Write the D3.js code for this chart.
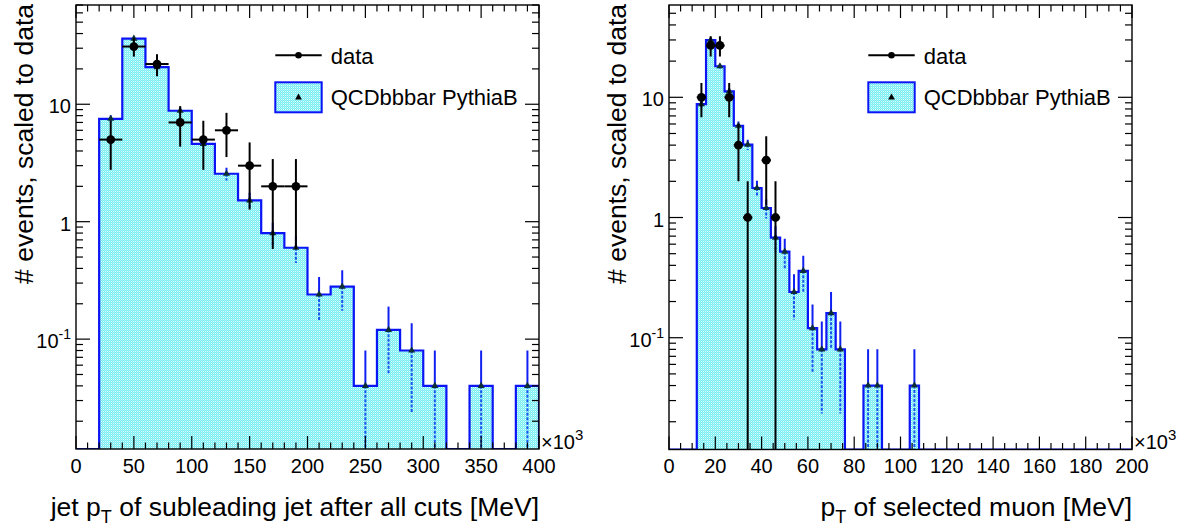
<!DOCTYPE html>
<html>
<head>
<meta charset="utf-8">
<script src="https://cdn.jsdelivr.net/npm/d3@7"></script>
<style>
  body { margin: 0; background: #fff; }
  svg text { font-family: "Liberation Sans", Arial, Helvetica, sans-serif; fill: #000; }
</style>
</head>
<body>
<svg id="chart" width="1184" height="530"></svg>
<script>
// ---- subleading jet pT (x in units of 10^3 MeV) ----
const jetEdges = [20, 40, 60, 80, 100, 120, 140, 160, 180, 200, 220, 240, 260, 280, 300, 320, 340, 360, 380, 400];
const jetMC    = [7.52, 36.2, 20.7, 8.8, 4.6, 2.56, 1.52, 0.8, 0.6, 0.24, 0.28, 0.04, 0.12, 0.08, 0.04, 0, 0.04, 0, 0.04];
const jetDataX = [30, 50, 70, 90, 110, 130, 150, 170, 190];
const jetData  = [5, 31, 22, 7, 5, 6, 3, 2, 2];
const jetTicks = [0, 50, 100, 150, 200, 250, 300, 350, 400];

// ---- selected muon pT (x in units of 10^3 MeV) ----
const muEdges = [12, 16, 20, 24, 28, 32, 36, 40, 44, 48, 52, 56, 60, 64, 68, 72, 76, 80, 84, 88, 92, 96, 100, 104, 108];
const muMC    = [8.76, 29.92, 18.12, 11.2, 5.8, 4.04, 1.76, 1.2, 0.68, 0.52, 0.24, 0.36, 0.12, 0.08, 0.16, 0.08, 0, 0, 0.04, 0.04, 0, 0, 0, 0.04];
const muDataX = [14, 18, 22, 26, 30, 34, 42, 46];
const muData  = [10, 27, 27, 10, 4, 1, 3, 1];
const muTicks = [0, 20, 40, 60, 80, 100, 120, 140, 160, 180, 200];

// decade labels on the log axis
const yDecades = [0.1, 1, 10];
const yDecadeLabels = [["10", "-1"], ["1", ""], ["10", ""]];

// per-event weight of the simulated sample (sets its statistical errors)
const mcWeight = 0.04;

const legendNames = ["data", "QCDbbbar PythiaB"];

const svg = d3.select("#chart");
const defs = svg.append("defs");

// dotted cyan fill
const pat = defs.append("pattern")
  .attr("id", "cyanDots").attr("patternUnits", "userSpaceOnUse")
  .attr("width", 2).attr("height", 2);
pat.append("rect").attr("width", 2).attr("height", 2).attr("fill", "#74edf3");
pat.append("rect").attr("x", 1).attr("y", 1).attr("width", 1).attr("height", 1).attr("fill", "#e2fcfd");
pat.append("rect").attr("x", 0).attr("y", 0).attr("width", 1).attr("height", 1).attr("fill", "#a2f4f7");

function drawPanel(cfg) {
  const { id, left, right, top, bottom } = cfg;
  const x = d3.scaleLinear().domain(cfg.xDomain).range([left, right]);
  const y = d3.scaleLog().domain(cfg.yDomain).range([bottom, top]);
  const g = svg.append("g");

  defs.append("clipPath").attr("id", "clip-" + id)
    .append("rect").attr("x", left).attr("y", top).attr("width", right - left).attr("height", bottom - top);
  const plot = g.append("g").attr("clip-path", `url(#clip-${id})`);

  // histogram outline (steps, zero bins lie on the lower edge)
  const yv = v => v > 0 ? y(v) : bottom;
  const pts = [[x(cfg.xDomain[0]), bottom], [x(cfg.edges[0]), bottom]];
  cfg.mc.forEach((v, i) => {
    pts.push([x(cfg.edges[i]), yv(v)]);
    pts.push([x(cfg.edges[i + 1]), yv(v)]);
  });
  pts.push([x(cfg.edges[cfg.edges.length - 1]), bottom]);
  pts.push([x(cfg.xDomain[1]), bottom]);
  const line = d3.line();

  plot.append("path").attr("d", line(pts) + "Z").attr("fill", "url(#cyanDots)").attr("stroke", "none");
  plot.append("path").attr("d", line(pts)).attr("fill", "none")
    .attr("stroke", "#0a14f5").attr("stroke-width", 2.2).attr("stroke-linejoin", "miter");

  // simulated sample: statistical error bars and markers
  cfg.mc.forEach((v, i) => {
    if (v <= 0) return;
    const cx = x((cfg.edges[i] + cfg.edges[i + 1]) / 2);
    const err = Math.sqrt(v * mcWeight);
    const lo = v - err > 0 ? y(v - err) : bottom + 5;
    plot.append("line").attr("x1", cx).attr("x2", cx).attr("y1", y(v + err)).attr("y2", y(v))
      .attr("stroke", "#1020f0").attr("stroke-width", 2);
    plot.append("line").attr("x1", cx).attr("x2", cx).attr("y1", y(v)).attr("y2", lo)
      .attr("stroke", "#1a55f0").attr("stroke-width", 2).attr("stroke-dasharray", "3,1.5");
    plot.append("path").attr("d", d3.symbol(d3.symbolTriangle, 22)())
      .attr("transform", `translate(${cx},${y(v)})`).attr("fill", "#0c2f35");
  });

  // data: Poisson error bars and markers
  const half = (cfg.edges[1] - cfg.edges[0]) / 2;
  cfg.dataX.forEach((c, i) => {
    const n = cfg.data[i];
    const err = Math.sqrt(n);
    const cy = y(n);
    const lo = n - err > 0 ? y(n - err) : bottom + 5;
    plot.append("line").attr("x1", x(c)).attr("x2", x(c)).attr("y1", y(n + err)).attr("y2", lo)
      .attr("stroke", "#000").attr("stroke-width", 2);
    plot.append("line").attr("x1", x(c - half)).attr("x2", x(c + half)).attr("y1", cy).attr("y2", cy)
      .attr("stroke", "#000").attr("stroke-width", 2);
    plot.append("circle").attr("cx", x(c)).attr("cy", cy).attr("r", 4.4).attr("fill", "#000");
  });

  // frame
  g.append("rect").attr("x", left).attr("y", top).attr("width", right - left).attr("height", bottom - top)
    .attr("fill", "none").attr("stroke", "#000").attr("stroke-width", 1.4);

  // x ticks (bottom and top, pointing inwards)
  const ticks = g.append("g").attr("stroke", "#000").attr("stroke-width", 1.2);
  const minor = d3.range(cfg.xDomain[0], cfg.xDomain[1] + 1e-9, cfg.minorStep);
  minor.forEach(v => {
    const isMajor = cfg.ticks.includes(v);
    const len = isMajor ? 13 : 6.5;
    ticks.append("line").attr("x1", x(v)).attr("x2", x(v)).attr("y1", bottom).attr("y2", bottom - len);
    ticks.append("line").attr("x1", x(v)).attr("x2", x(v)).attr("y1", top).attr("y2", top + len);
  });
  // log y ticks (left and right)
  const [y0, y1] = cfg.yDomain;
  for (let e = Math.floor(Math.log10(y0)); e <= Math.ceil(Math.log10(y1)); e++) {
    for (let k = 1; k <= 9; k++) {
      const v = k * Math.pow(10, e);
      if (v < y0 || v > y1) continue;
      const len = k === 1 ? 14 : 7;
      ticks.append("line").attr("x1", left).attr("x2", left + len).attr("y1", y(v)).attr("y2", y(v));
      ticks.append("line").attr("x1", right).attr("x2", right - len).attr("y1", y(v)).attr("y2", y(v));
    }
  }

  // tick labels
  cfg.ticks.forEach(v => {
    g.append("text").attr("x", x(v)).attr("y", 473).attr("text-anchor", "middle")
      .attr("font-size", 20).text(v);
  });
  yDecades.forEach((v, i) => {
    const t = g.append("text").attr("x", left - 5).attr("y", y(v) + 9).attr("text-anchor", "end")
      .attr("font-size", 20);
    t.append("tspan").text(yDecadeLabels[i][0]);
    if (yDecadeLabels[i][1]) t.append("tspan").attr("font-size", 14).attr("dy", -9).text(yDecadeLabels[i][1]);
  });
  // ×10^3 multiplier
  const m = g.append("text").attr("x", right + 2).attr("y", 449).attr("font-size", 20);
  m.append("tspan").text("×10");
  m.append("tspan").attr("font-size", 15).attr("dy", -9).text("3");

  // axis titles
  g.append("text").attr("transform", `translate(${left - 43},${top - 1}) rotate(-90)`)
    .attr("text-anchor", "end").attr("font-size", 26.5).text("# events, scaled to data");
  const xt = g.append("text").attr("x", right).attr("y", 516).attr("text-anchor", "end").attr("font-size", 26.5);
  xt.append("tspan").text(cfg.titlePre);
  xt.append("tspan").attr("font-size", 18).attr("dy", 7).text("T");
  xt.append("tspan").attr("dy", -7).text(cfg.titlePost);

  // legend
  const lx = left + 199.3, lw = 46.4, tx = left + 254.7;
  g.append("line").attr("x1", lx).attr("x2", lx + lw).attr("y1", 55.3).attr("y2", 55.3)
    .attr("stroke", "#000").attr("stroke-width", 2);
  g.append("circle").attr("cx", lx + lw / 2).attr("cy", 55.3).attr("r", 3.3).attr("fill", "#000");
  g.append("text").attr("x", tx).attr("y", 63.5).attr("font-size", 22).text(legendNames[0]);
  g.append("rect").attr("x", lx).attr("y", 82.3).attr("width", lw).attr("height", 30)
    .attr("fill", "url(#cyanDots)").attr("stroke", "#0a14f5").attr("stroke-width", 2);
  g.append("path").attr("d", d3.symbol(d3.symbolTriangle, 20)())
    .attr("transform", `translate(${lx + lw / 2},${97.5})`).attr("fill", "#000");
  g.append("text").attr("x", tx).attr("y", 104.5).attr("font-size", 22).text(legendNames[1]);
}

drawPanel({
  id: "jet", left: 76, right: 539, top: 5, bottom: 449,
  xDomain: [0, 400], yDomain: [0.0116, 70], minorStep: 10,
  edges: jetEdges, mc: jetMC, dataX: jetDataX, data: jetData, ticks: jetTicks,
  titlePre: "jet p", titlePost: " of subleading jet after all cuts [MeV]"
});

drawPanel({
  id: "mu", left: 669, right: 1132, top: 5, bottom: 449.5,
  xDomain: [0, 200], yDomain: [0.01175, 58.6], minorStep: 5,
  edges: muEdges, mc: muMC, dataX: muDataX, data: muData, ticks: muTicks,
  titlePre: "p", titlePost: " of selected muon [MeV]"
});
</script>
</body>
</html>
